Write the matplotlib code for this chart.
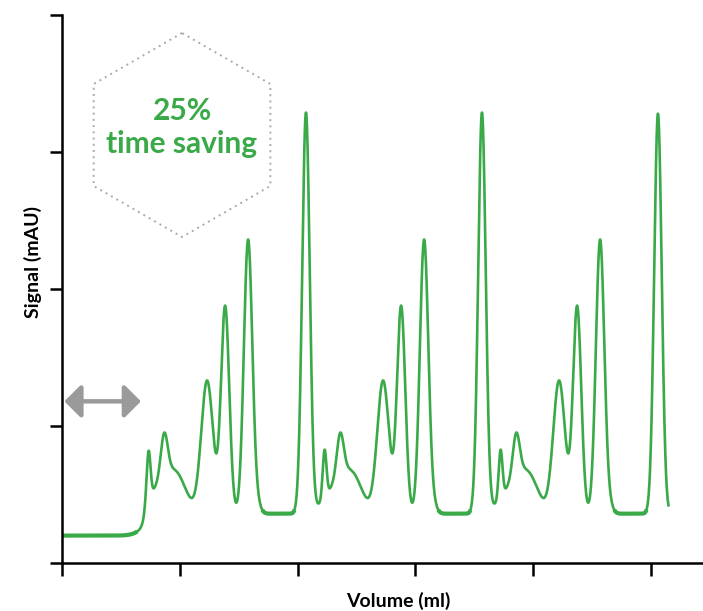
import numpy as np
import matplotlib
matplotlib.use('Agg')
import matplotlib.pyplot as plt

# Datos del cromatograma
# picos de un ciclo: centro (ml), altura sobre la línea base (mAU), ancho (sigma)
centros_pico = [0.735, 0.86, 0.868, 0.985, 1.232, 1.385, 1.580, 1.66, 2.071]
alturas_pico = [0.35, 0.22, 0.31, 0.18, 0.97, 1.51, 2.00, 0.05, 2.92]
anchos_pico = [0.016, 0.11, 0.029, 0.08, 0.05, 0.035, 0.036, 0.03, 0.032]

# desplazamiento de cada inyección (ml)
desplazamientos_ciclo = [0.0, 1.494, 2.988]

base_inicial = 0.20      # señal antes de la primera inyección
base_ciclo = 0.36        # señal entre picos
inicio_subida = 0.70     # volumen donde sube la línea base
volumen_final = 5.15

ticks_x = [0, 1, 2, 3, 4, 5]
ticks_y = [0, 1, 2, 3, 4]

verde = '#3aaa48'
gris = '#9a9a9a'

plt.rcParams['font.family'] = ['Lato', 'DejaVu Sans']

# Construir la señal
x = np.linspace(0, volumen_final, 4000)
y = base_inicial + (base_ciclo - base_inicial) / (1 + np.exp(-(x - inicio_subida) / 0.012))
for d in desplazamientos_ciclo:
    for c, h, s in zip(centros_pico, alturas_pico, anchos_pico):
        y = y + h * np.exp(-0.5 * ((x - (c + d)) / s) ** 2)

fig = plt.figure(figsize=(7.03, 6.11), dpi=100)
ax = fig.add_axes([62 / 703, 48 / 611, 641 / 703, 548 / 611])

ax.plot(x, y, color=verde, lw=1.9, solid_capstyle='butt')
# tramos planos algo más gruesos, como en el original
plano = np.where(np.abs(y - base_ciclo) < 0.03, y, np.nan)
plano[x < 0.64] = y[x < 0.64]
plano[(x >= 0.64) & (x < 0.9)] = np.nan
ax.plot(x, plano, color=verde, lw=3.0, solid_capstyle='butt')

ax.set_xlim(0, 641 / 117.8)
ax.set_ylim(0, 4)
ax.set_xticks(ticks_x)
ax.set_yticks(ticks_y)
ax.set_xticklabels([])
ax.set_yticklabels([])
ax.tick_params(length=9, width=1.8, color='black')
for lado in ['top', 'right']:
    ax.spines[lado].set_visible(False)
for lado in ['left', 'bottom']:
    ax.spines[lado].set_linewidth(1.8)

ax.set_xlabel('Volume (ml)', fontsize=14, fontweight='bold', labelpad=8, x=0.524)
ax.set_ylabel('Signal (mAU)', fontsize=14, fontweight='bold', labelpad=2, y=0.549)

# flecha doble gris
ax.annotate('', xy=(0.02, 1.18), xytext=(0.67, 1.18),
            arrowprops=dict(arrowstyle='<|-|>,head_length=0.5,head_width=0.5',
                            color=gris, lw=3.2, mutation_scale=20,
                            shrinkA=0, shrinkB=0))

# hexágono punteado
cx, cy = 1.019, 3.124
radio_px = 102
ang = np.deg2rad(90 + 60 * np.arange(7))
hx = cx + radio_px * np.cos(ang) / 117.8
hy = cy + radio_px * np.sin(ang) / 137
ax.plot(hx, hy, color='#aaaaaa', lw=1.4, linestyle=(0, (1, 2.2)))

ax.text(cx, 3.30, '25%', color=verde, fontsize=21.5, fontweight='bold',
        ha='center', va='center')
ax.text(cx, 3.06, 'time saving', color=verde, fontsize=21.5, fontweight='bold',
        ha='center', va='center')

fig.savefig('out.png', dpi=100)
